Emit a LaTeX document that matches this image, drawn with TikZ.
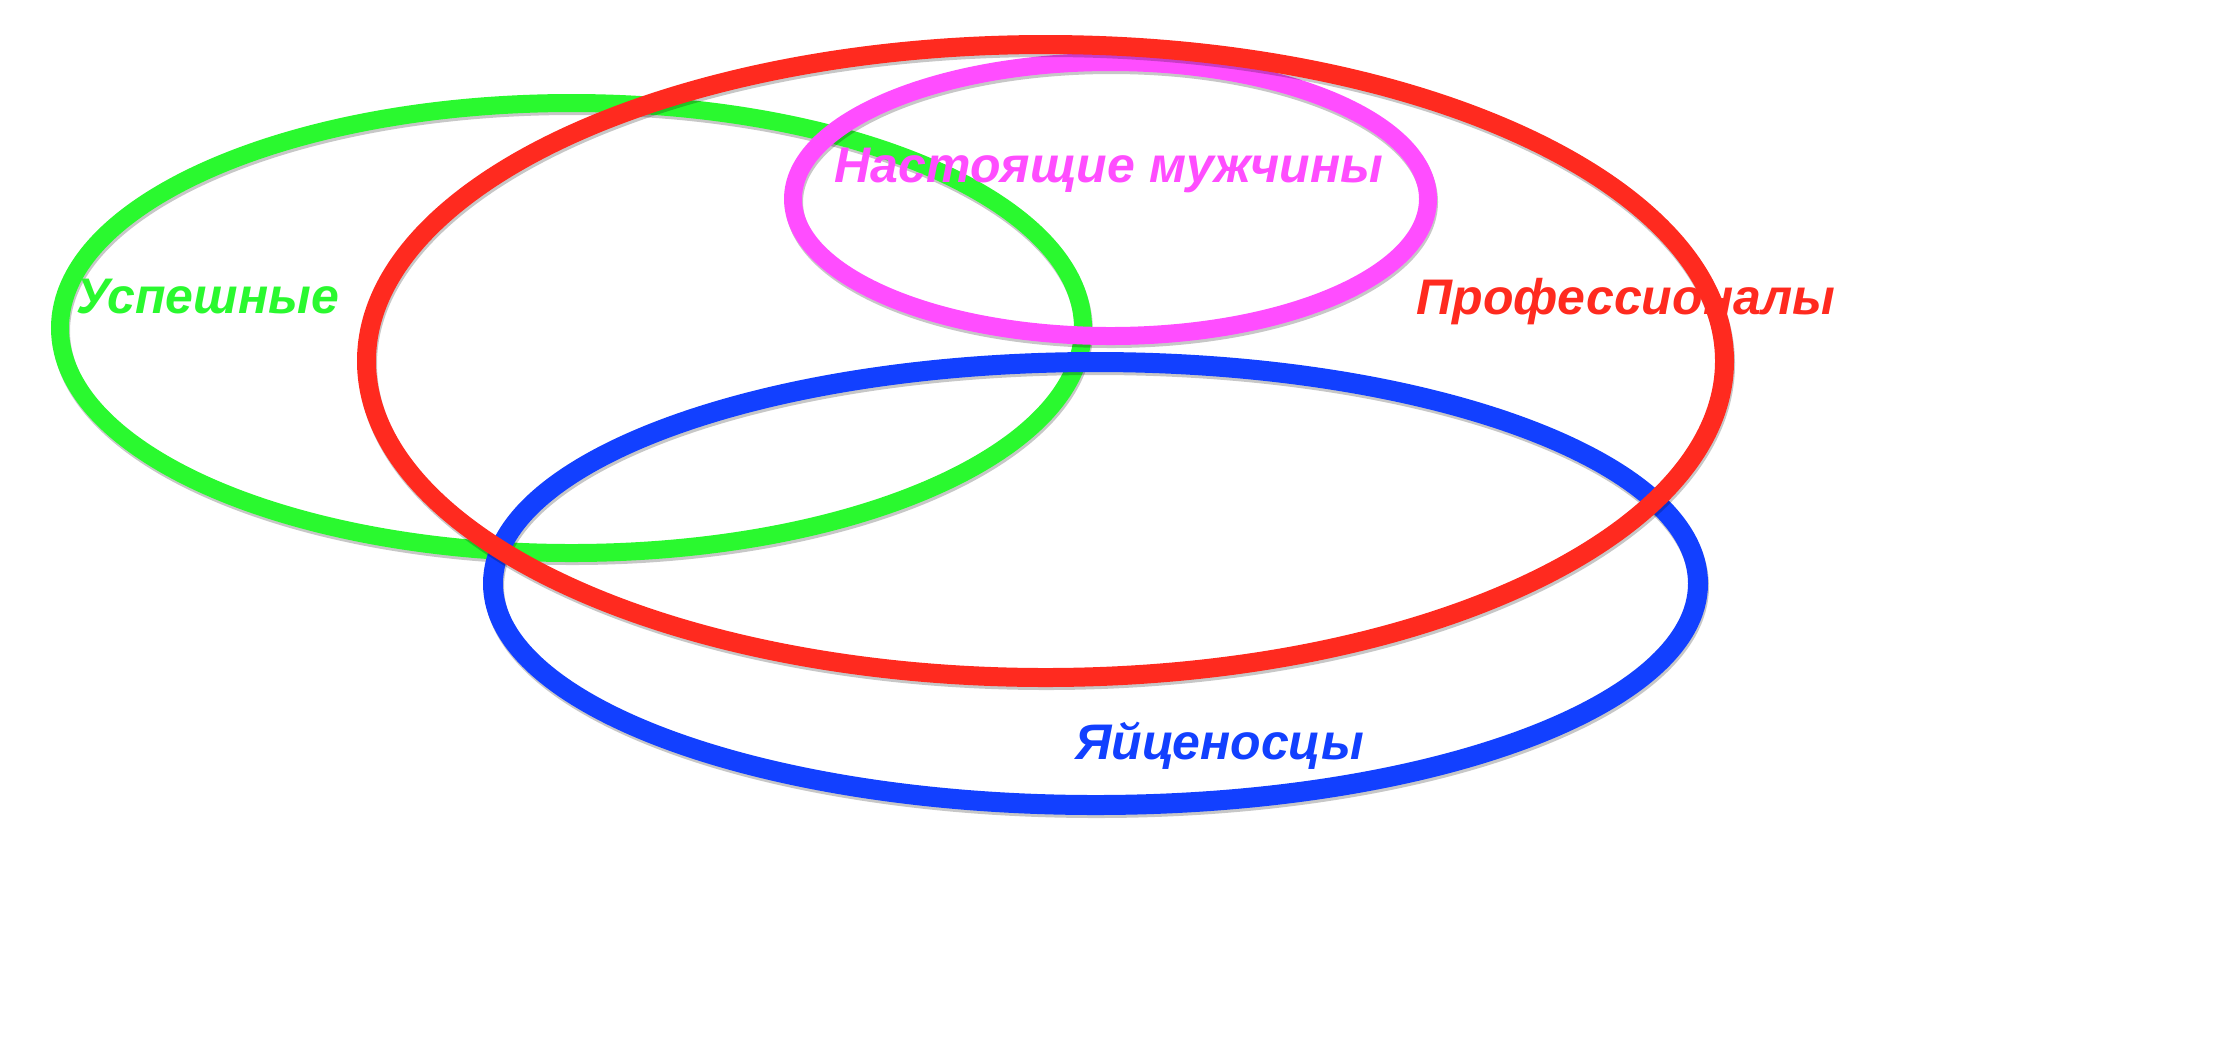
\documentclass[tikz,border=0pt]{standalone}
\usepackage{fontspec}
\setmainfont{Liberation Sans}
\usetikzlibrary{shapes.geometric}

\definecolor{usp}{RGB}{42,249,47}
\definecolor{prof}{RGB}{255,42,31}
\definecolor{nast}{RGB}{255,77,255}
\definecolor{yaic}{RGB}{18,64,255}

\tikzset{
  ring/.style={ellipse, draw=#1, inner sep=0pt, outer sep=0pt,
    preaction={draw=black, opacity=.22, transform canvas={shift={(0.5pt,-1.5pt)}}}},
  setname/.style={text=#1, anchor=base, inner sep=0pt,
    font=\fontsize{25}{30}\selectfont\bfseries\itshape}
}

\begin{document}
\begin{tikzpicture}[x=0.5pt,y=-0.5pt]
    \useasboundingbox (0,0) rectangle (2236,1041);
    \node[ring=usp, line width=9pt, minimum width=511.5pt, minimum height=225pt] (usp) at (571.5,328) {};
    \node[ring=yaic, line width=10pt, minimum width=602.5pt, minimum height=221.5pt] (yaic) at (1095.5,583.5) {};
    \node[ring=nast, line width=9pt, minimum width=317.5pt, minimum height=137pt] (nast) at (1110.5,199) {};
    \node[ring=prof, line width=9.5pt, minimum width=679pt, minimum height=316.5pt] (prof) at (1045.5,361) {};
    \node[setname=usp] (usp label) at (207.5,313) {Успешные};
    \node[setname=nast] (nast label) at (1109,182) {Настоящие мужчины};
    \node[setname=prof] (prof label) at (1626,314) {Профессионалы};
    \node[setname=yaic] (yaic label) at (1219.5,759) {Яйценосцы};
\end{tikzpicture}
\end{document}
